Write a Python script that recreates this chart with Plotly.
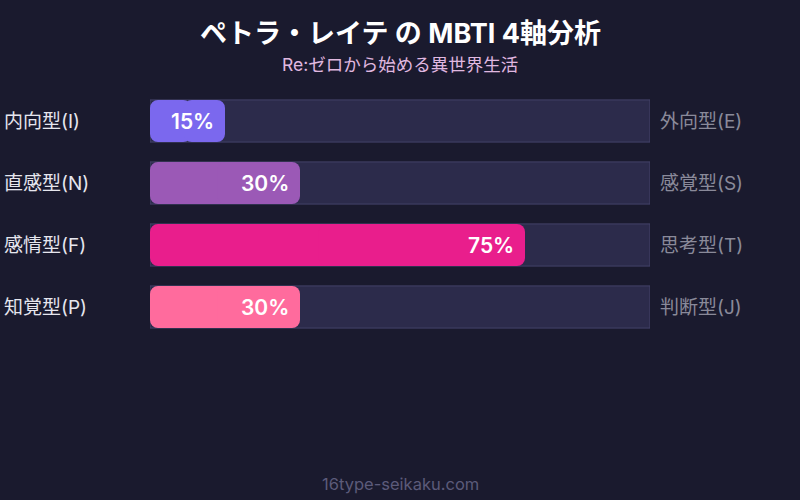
import plotly.graph_objects as go

# ----------------------------
# data
# ----------------------------
left_labels = ["内向型(I)", "直感型(N)", "感情型(F)", "知覚型(P)"]
right_labels = ["外向型(E)", "感覚型(S)", "思考型(T)", "判断型(J)"]
values = [15, 30, 75, 30]
bar_colors = ["#7b68ee", "#9b59b6", "#e91e8c", "#ff6b9d"]

rows = list(range(len(values)))
FONT = "Inter, 'Noto Sans CJK JP', sans-serif"

# plot area in pixels: x 150..650, y 90..338
PLOT_TOP, PLOT_H = 90, 248

def py(pix):
    # pixel row -> paper y
    return 1 - (pix - PLOT_TOP) / PLOT_H

fig = go.Figure()

# background track (full 100%), square corners
fig.add_trace(go.Bar(
    x=[100] * len(values), y=rows, orientation="h",
    marker=dict(color="#2c2b4b", line=dict(color="#44436a", width=1)),
    width=0.68, hoverinfo="skip", showlegend=False,
))

# filled part, drawn as two overlapping halves so both ends get rounded
# left half: grows leftwards from 0.55*v down to 0 (rounded at the left end)
fig.add_trace(go.Bar(
    x=[-v * 0.55 for v in values], base=[v * 0.55 for v in values], y=rows,
    orientation="h", yaxis="y2",
    marker=dict(color=bar_colors, line=dict(width=0), cornerradius=8),
    width=0.68, hoverinfo="skip", showlegend=False,
))
# right half: from 0.45*v up to v (rounded at the right end)
fig.add_trace(go.Bar(
    x=[v * 0.55 for v in values], base=[v * 0.45 for v in values], y=rows,
    orientation="h", yaxis="y3",
    marker=dict(color=bar_colors, line=dict(width=0), cornerradius=8),
    width=0.68, showlegend=False,
    customdata=values, hovertemplate="%{customdata}%<extra></extra>",
))

# percent text at bar end
for r, v in zip(rows, values):
    fig.add_annotation(x=v, y=r, xref="x", yref="y", text=f"{v}%",
                       xanchor="right", xshift=-9, showarrow=False,
                       font=dict(family=FONT, size=21, color="white", weight=600))

# left / right labels
for r, lab in zip(rows, left_labels):
    fig.add_annotation(x=-0.296, y=r, xref="paper", yref="y", text=lab,
                       xanchor="left", showarrow=False,
                       font=dict(family=FONT, size=19, color="#e6e6ee"))
for r, lab in zip(rows, right_labels):
    fig.add_annotation(x=1.016, y=r, xref="paper", yref="y", text=lab,
                       xanchor="left", showarrow=False,
                       font=dict(family=FONT, size=19, color="#8a8a9a"))

# titles + footer
fig.add_annotation(x=0.5, y=py(33), xref="paper", yref="paper", yanchor="middle",
                   text="ペトラ・レイテ の MBTI 4軸分析", showarrow=False,
                   font=dict(family=FONT, size=27, color="white", weight=700))
fig.add_annotation(x=0.5, y=py(64), xref="paper", yref="paper", yanchor="middle",
                   text="Re:ゼロから始める異世界生活", showarrow=False,
                   font=dict(family=FONT, size=17.5, color="#e0b8e0"))
fig.add_annotation(x=0.5, y=py(484), xref="paper", yref="paper", yanchor="middle",
                   text="16type-seikaku.com", showarrow=False,
                   font=dict(family=FONT, size=16.5, color="#5c5b7a"))

yax = dict(range=[3.5, -0.5], visible=False, fixedrange=True)
fig.update_layout(
    width=800, height=500,
    barmode="overlay",
    paper_bgcolor="#1a1a2e", plot_bgcolor="#1a1a2e",
    margin=dict(l=150, r=150, t=90, b=162),
    xaxis=dict(range=[0, 100], visible=False, fixedrange=True),
    yaxis=yax,
    yaxis2=dict(yax, overlaying="y"),
    yaxis3=dict(yax, overlaying="y"),
)

fig.write_html("out.html", config={"displayModeBar": False},
               post_script="document.body.style.margin='0';document.body.style.background='#1a1a2e';")
